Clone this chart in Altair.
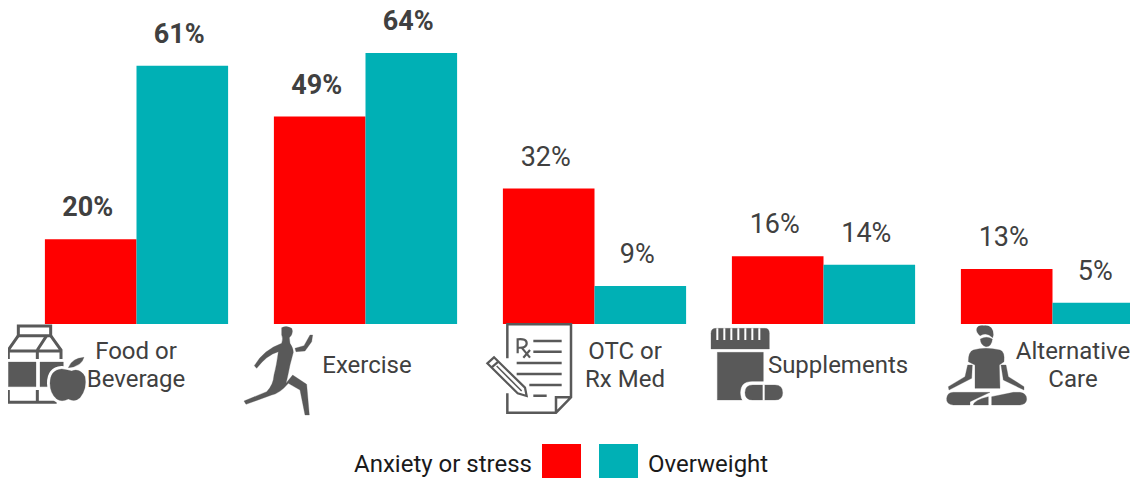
import re
import altair as alt
import pandas as pd

categories = ["Food or Beverage", "Exercise", "OTC or Rx Med", "Supplements", "Alternative Care"]
anxiety = [20, 49, 32, 16, 13]
overweight = [61, 64, 9, 14, 5]
bold_flags = [True, True, False, False, False]
series_names = ["Anxiety or stress", "Overweight"]
series_colors = ["#ff0000", "#00b0b5"]
axis_labels = [["Food or", "Beverage"], ["Exercise"], ["OTC or", "Rx Med"], ["Supplements"], ["Alternative", "Care"]]
label_centers = [136, 367, 625, 838, 1073]

FONT = "Roboto"
GREY = "#595959"
TXT = "#404040"
OX, OY = 8, 8

rows = []
for c, a, o, b in zip(categories, anxiety, overweight, bold_flags):
    rows.append({"cat": c, "series": series_names[0], "v": a, "bold": b, "lab": f"{a}%"})
    rows.append({"cat": c, "series": series_names[1], "v": o, "bold": b, "lab": f"{o}%"})
df = pd.DataFrame(rows)

xs = alt.X("cat:N", sort=categories, axis=None,
           scale=alt.Scale(range=[14, 1159], paddingInner=0.2, paddingOuter=0.1))
ys = alt.Y("v:Q", axis=None, scale=alt.Scale(domain=[0, 74.63], range=[316, 0], nice=False))
xo = alt.XOffset("series:N", sort=series_names, scale=alt.Scale(paddingInner=0, paddingOuter=0))

bars = alt.Chart(df).mark_bar(clip=True).encode(
    x=xs, y=ys, xOffset=xo,
    color=alt.Color("series:N", sort=series_names, legend=None,
                    scale=alt.Scale(domain=series_names, range=series_colors)),
)
lab_b = alt.Chart(df[df.bold]).mark_text(font=FONT, fontSize=27, fontWeight="bold", color=TXT,
                                         dx=-3, dy=-31, baseline="middle").encode(x=xs, y=ys, xOffset=xo, text="lab:N")
lab_r = alt.Chart(df[~df.bold]).mark_text(font=FONT, fontSize=27, color=TXT,
                                          dx=-3, dy=-31, baseline="middle").encode(x=xs, y=ys, xOffset=xo, text="lab:N")
layers = [bars, lab_b, lab_r]

one = alt.Chart(pd.DataFrame({"a": [0]}))

# category text
for lines, cx in zip(axis_labels, label_centers):
    y0 = 366 if len(lines) == 1 else 352
    for i, t in enumerate(lines):
        layers.append(one.mark_text(font=FONT, fontSize=24, color=TXT, baseline="middle", align="center", text=t)
                      .encode(x=alt.value(cx - OX), y=alt.value(y0 + 28 * i - OY)))

# legend
layers.append(one.mark_text(font=FONT, fontSize=24, color="#1a1a1a", baseline="middle", align="right", text=series_names[0])
              .encode(x=alt.value(532 - OX), y=alt.value(465 - OY)))
layers.append(one.mark_text(font=FONT, fontSize=24, color="#1a1a1a", baseline="middle", align="left", text=series_names[1])
              .encode(x=alt.value(648 - OX), y=alt.value(465 - OY)))
for (a, b), col in zip([(542, 581), (599, 638)], series_colors):
    layers.append(one.mark_rect(color=col).encode(
        x=alt.value(a - OX), x2=alt.value(b - OX), y=alt.value(444 - OY), y2=alt.value(478 - OY)))


def icon(paths, ox, oy, cx, cy):
    """paths written in 3x crop coordinates; converted to a [-1,1] symbol box of 100px."""
    for d, kind, sw in paths:
        def conv(m):
            x = (ox + float(m.group(1)) / 3 - cx) / 50
            y = (oy + float(m.group(2)) / 3 - cy) / 50
            return f"{x:.4f} {y:.4f}"
        p = re.sub(r"(-?[\d.]+) (-?[\d.]+)", conv, d)
        if kind == "fill":
            kw = dict(filled=True, fill=GREY, stroke=GREY, strokeWidth=0.3, opacity=1)
        elif kind == "white":
            kw = dict(filled=True, fill="white", stroke="white", strokeWidth=sw, opacity=1)
        elif kind == "wline":
            kw = dict(filled=False, stroke="white", strokeWidth=sw, opacity=1)
        else:
            kw = dict(filled=False, stroke=GREY, strokeWidth=sw, opacity=1)
        layers.append(one.mark_point(shape=p, size=10000, **kw)
                      .encode(x=alt.value(cx - OX), y=alt.value(cy - OY)))


CARTON = [
    ("M55 62 L55 33 L152 33 L152 62 Z", "line", 3),
    ("M55 62 L25 105 L25 132 M152 62 L183 105 L183 132 M112 105 L140 62 M25 108 L183 108 M112 108 L112 132", "line", 3),
    ("M25 225 L25 262 L170 262 M112 225 L112 262", "line", 3),
    ("M25 141 L108 141 L108 215 L25 215 Z", "fill", 0),
    ("M120 141 L190 141 L190 215 L120 215 Z", "fill", 0),
    ("M150 205 Q150 165 185 162 Q205 165 215 168 Q240 158 255 185 Q262 220 240 248 Q225 262 205 252 Q185 262 170 252 Q150 235 150 205 Z", "white", 6),
    ("M150 205 Q150 165 185 162 Q205 165 215 168 Q240 158 255 185 Q262 220 240 248 Q225 262 205 252 Q185 262 170 252 Q150 235 150 205 Z", "fill", 0),
    ("M205 158 Q215 130 252 127 Q245 155 205 158 Z", "fill", 0),
]
icon(CARTON, 0, 315, 50, 365)

RUNNER = [
    ("M845 38 Q860 30 875 40 Q882 55 868 68 L870 85 Q880 100 880 112 L870 150 Q862 190 858 205 L878 180 L920 208 L928 300 L915 300 L900 225 L865 205 Q840 235 815 240 L738 268 L732 258 L800 230 Q820 210 822 180 Q830 150 835 110 Q800 120 770 160 L763 152 Q790 105 845 85 Q850 70 845 60 Z", "fill", 0),
    ("M885 100 L912 92 L930 60 L938 60 L935 80 L915 108 L888 110 Z", "fill", 0),
]
icon(RUNNER, 0, 315, 278, 370)

RX = [
    ("M112 130 L112 28 L303 28 L303 247 L258 293 L112 293 L112 235 M303 247 L258 247 L258 293", "line", 2.5),
    ("M190 78 L275 78 M190 110 L275 110 M140 144 L275 144 M140 177 L275 177 M178 210 L275 210 M190 242 L230 242", "line", 2.5),
    ("M143 115 L143 73 Q170 70 170 85 Q170 100 143 98 M155 98 L180 128 M180 105 L160 128", "line", 2.2),
    ("M88 140 L165 218 L170 243 L143 235 L66 157 Z", "white", 3),
    ("M52 145 L72 127 L165 218 L170 243 L143 235 Z M65 157 L85 140", "line", 2.2),
    ("M80 153 L155 228", "line", 1.5),
]
icon(RX, 470, 315, 530, 370)

PILLS = [
    ("M723 102 L723 55 Q723 40 738 40 L885 40 Q898 40 898 55 L898 102 Z", "fill", 0),
    ("M742 112 L880 112 L880 255 L742 255 Z", "fill", 0),
    ("M742 40 L742 75 M763 40 L763 75 M784 40 L784 75 M805 40 L805 75 M826 40 L826 75 M847 40 L847 75 M868 40 L868 75", "wline", 2),
    ("M845 200 L920 200 Q950 200 950 233 Q950 268 920 268 L845 268 Q812 268 812 233 Q812 200 845 200 Z", "white", 0.5),
    ("M848 210 L915 210 Q938 210 938 233 Q938 255 915 255 L848 255 Q825 255 825 233 Q825 210 848 210 Z", "fill", 0),
    ("M881 208 L881 257", "wline", 2),
]
icon(PILLS, 470, 315, 747, 365)

MEDITATE = [
    ("M530 42 Q532 30 552 32 Q580 30 580 60 L578 68 Q560 50 540 62 Q528 52 530 42 Z", "fill", 0),
    ("M541 72 Q560 62 577 72 Q575 95 558 95 Q542 92 541 72 Z", "fill", 0),
    ("M520 105 Q555 95 600 105 Q615 110 612 140 L598 150 L600 220 L525 220 L525 150 L505 140 Q505 110 520 105 Z", "fill", 0),
    ("M503 150 L517 150 L515 190 L447 225 L445 215 L495 185 Z", "fill", 0),
    ("M603 150 L618 150 L625 185 L672 215 L672 225 L610 195 Z", "fill", 0),
    ("M460 232 L570 232 L510 260 L510 270 L460 270 Q438 268 440 250 Q442 232 460 232 Z", "fill", 0),
    ("M520 270 Q522 255 565 245 L565 270 Z", "fill", 0),
    ("M575 245 L640 232 L660 232 Q680 235 680 252 Q680 268 660 270 L575 270 Z", "fill", 0),
]
icon(MEDITATE, 800, 315, 987, 365)

chart = alt.layer(*layers).properties(
    width=1122, height=470, padding=0,
    autosize=alt.AutoSizeParams(type="none"),
).configure_view(stroke=None)

chart.save("out.html", embed_options={"renderer": "svg", "actions": False})
